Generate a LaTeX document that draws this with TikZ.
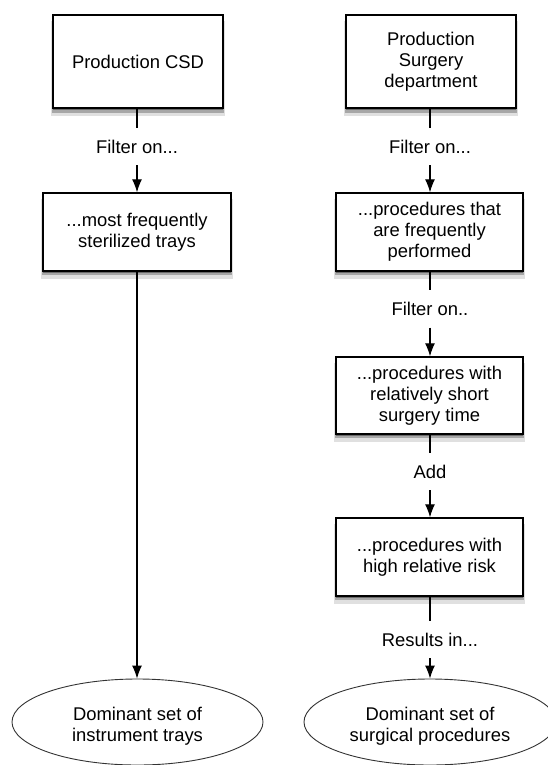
\documentclass[tikz,border=0pt]{standalone}
\usepackage{fontspec}
\setmainfont{Liberation Sans}
\usetikzlibrary{shadows,arrows.meta,shapes.geometric}
\tikzset{
  x=1pt, y=-1pt,
  every node/.style={font=\fontsize{18.4}{21}\selectfont, text=black, align=center, inner sep=0pt},
  boxshadow/.style={
    drop shadow={shadow xshift=0pt, shadow yshift=-2pt, opacity=.35, fill=black},
    drop shadow={shadow xshift=0pt, shadow yshift=-4pt, shadow scale=1.01, opacity=.25, fill=black},
    drop shadow={shadow xshift=0pt, shadow yshift=-7pt, shadow scale=1.02, opacity=.12, fill=black}},
  procbox/.style={draw=black, line width=1.4pt, fill=white, rectangle, boxshadow},
  resultell/.style={draw=black!80, line width=0.9pt, fill=white, ellipse, inner sep=0pt},
  lbl/.style={minimum height=37pt, minimum width=40pt},
  conn/.style={draw=black, line width=1.1pt},
  arr/.style={conn, -{Latex[length=13pt,width=10pt]}}
}
\begin{document}
\begin{tikzpicture}
\useasboundingbox (0,0) rectangle (548,765);
\fill[white] (0,0) rectangle (548,765);

% left column
\node[procbox, minimum width=170pt, minimum height=93pt] (csd) at (138,61.5) {Production CSD};
\node[lbl] (lf1) at (137,146.5) {Filter on...};
\node[procbox, minimum width=188pt, minimum height=78pt] (trays) at (137,232) {...most frequently\\sterilized trays};
\node[resultell, minimum width=251pt, minimum height=86pt] (domtrays) at (137.5,722) {};
\node (domtraystxt) at (137.5,726) {Dominant set of\\instrument trays};

% right column
\node[procbox, minimum width=170pt, minimum height=93pt] (surg) at (431,61.5) {Production\\Surgery\\department};
\node[lbl] (rf1) at (430,146.5) {Filter on...};
\node[procbox, minimum width=187pt, minimum height=78pt] (freq) at (429.5,232) {...procedures that\\are frequently\\performed};
\node[lbl] (rf2) at (430,309) {Filter on..};
\node[procbox, minimum width=187pt, minimum height=77pt] (short) at (429.5,395.5) {...procedures with\\relatively short\\surgery time};
\node[lbl] (radd) at (430,471.5) {Add};
\node[procbox, minimum width=187pt, minimum height=78pt] (risk) at (429.5,557) {...procedures with\\high relative risk};
\node[lbl] (rres) at (430,639.5) {Results in...};
\node[resultell, minimum width=252pt, minimum height=86pt] (domproc) at (430,722) {};
\node (domproctxt) at (430,726) {Dominant set of\\surgical procedures};

% connectors left
\draw[conn] (csd.south -| lf1) -- (lf1.north);
\draw[arr] (lf1.south) -- (trays.north -| lf1);
\draw[arr] (trays.south -| lf1) -- (domtrays.north -| lf1);

% connectors right
\draw[conn] (surg.south -| rf1) -- (rf1.north);
\draw[arr] (rf1.south) -- (freq.north -| rf1);
\draw[conn] (freq.south -| rf2) -- (rf2.north);
\draw[arr] (rf2.south) -- (short.north -| rf2);
\draw[conn] (short.south -| radd) -- (radd.north);
\draw[arr] (radd.south) -- (risk.north -| radd);
\draw[conn] (risk.south -| rres) -- (rres.north);
\draw[arr] (rres.south) -- (domproc.north -| rres);
\end{tikzpicture}
\end{document}
